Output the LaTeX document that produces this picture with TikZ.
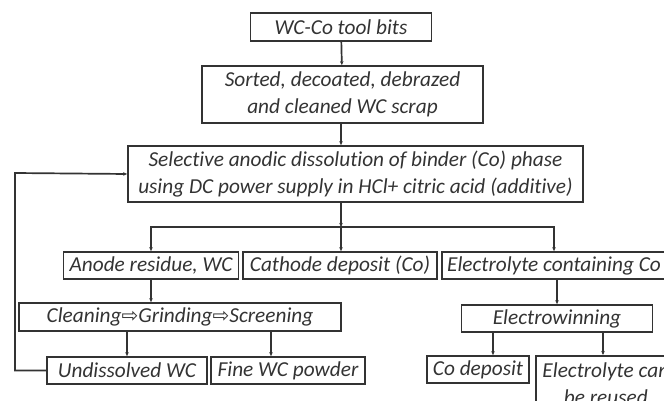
\documentclass[tikz,border=0pt]{standalone}
\usepackage{fontspec}
\setmainfont{Carlito}[Ligatures=NoCommon]
\newfontfamily\arrowfont{DejaVu Sans}
\usetikzlibrary{arrows.meta}
\definecolor{ink}{HTML}{333333}
\newcommand{\thento}{{\arrowfont\fontsize{20}{20}\selectfont ⇨}}

\begin{document}
\begin{tikzpicture}[x=1pt,y=-1pt,
  stage/.style={draw=ink,line width=1.7pt,text=ink,inner sep=0pt,align=center,
    font=\fontsize{21.3}{26.5}\selectfont\itshape},
  flow/.style={draw=ink,line width=1.7pt,-{Stealth[length=4pt,width=3.5pt]}}]
  \useasboundingbox (0,0) rectangle (664,401);
  \clip (0,0) rectangle (664,401);
  %top
  \node[stage,minimum width=181pt,minimum height=28pt] (tools) at (341,27) {WC-Co tool bits};
  \node[stage,minimum width=281pt,minimum height=57pt] (scrap) at (342.5,94.5) {Sorted, decoated, debrazed\\and cleaned WC scrap};
  \node[stage,minimum width=455pt,minimum height=56pt] (dissolve) at (355.5,174) {Selective anodic dissolution of binder (Co) phase\\using DC power supply in HCl+ citric acid (additive)};
  \coordinate (split) at (341,227);
  %products
  \node[stage,minimum width=175pt,minimum height=27pt] (anode) at (151,265.5) {Anode residue, WC};
  \node[stage,minimum width=194pt,minimum height=27pt] (cathode) at (340,265.5) {Cathode deposit (Co)};
  \node[stage,minimum width=224pt,minimum height=27pt] (electrolyte) at (554,265.5) {Electrolyte containing Co};
  %left branch
  \node[stage,minimum width=322pt,minimum height=28pt] (cleaning) at (180,317) {Cleaning\thento Grinding\thento Screening};
  \node[stage,minimum width=160pt,minimum height=27pt] (undissolved) at (127,370.5) {Undissolved WC};
  \node[stage,minimum width=154pt,minimum height=27pt] (fine) at (288,370.5) {Fine WC powder};
  %right branch
  \node[stage,minimum width=191pt,minimum height=27pt] (winning) at (557,318.5) {Electrowinning};
  \node[stage,minimum width=102pt,minimum height=27pt] (codeposit) at (478,369.5) {Co deposit};
  \node[stage,minimum width=140pt,minimum height=56pt,anchor=north west] (reuse) at (535,355) {Electrolyte can\\be reused};
  %connectors
  \draw[flow] (tools) -- (scrap);
  \draw[flow] (scrap.south -| tools) -- (dissolve.north -| tools);
  \draw[flow] (dissolve.south -| split) -- (split);
  \draw[flow] (split) -| (electrolyte.north);
  \draw[flow] (split) -| (anode.north);
  \draw[flow] (split) -- (cathode.north -| split);
  \draw[flow] (anode.south) -- (anode.south |- cleaning.north);
  \draw[flow] (cleaning.south -| undissolved.north) -- (undissolved.north);
  \draw[flow] ([xshift=-17pt]fine.north |- cleaning.south) -- ([xshift=-17pt]fine.north);
  \draw[flow] (electrolyte.south -| winning.north) -- (winning.north);
  \draw[flow] ([xshift=15pt]codeposit.north |- winning.south) -- ([xshift=15pt]codeposit.north);
  \draw[flow] ([xshift=68pt]reuse.north west |- winning.south) -- ([xshift=68pt]reuse.north west);
  %feedback
  \coordinate (back) at (15,173);
  \draw[flow] (undissolved.west) -| (back) -- (dissolve.west);
\end{tikzpicture}
\end{document}
